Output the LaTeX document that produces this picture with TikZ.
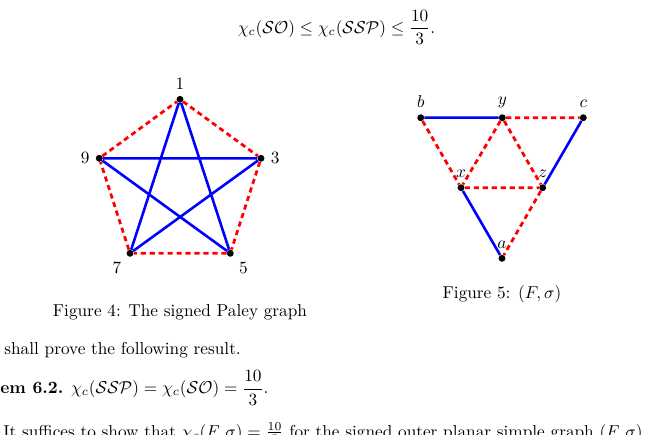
\documentclass[tikz,border=0pt]{standalone}
\usepackage{amsmath,amssymb}
\usepackage{tikz}
\usetikzlibrary{positioning}

\begin{document}
\begin{tikzpicture}[
    x=0.58pt, y=-0.58pt,
    vtx/.style={circle, fill=black, inner sep=0pt, minimum size=4pt},
    posedge/.style={blue, line width=1.5pt},
    negedge/.style={red, line width=1.6pt, dash pattern=on 3pt off 2.2pt},
    txt/.style={inner sep=0pt, anchor=base west},
    captxt/.style={inner sep=0pt, anchor=base}
]
\useasboundingbox (0,0) rectangle (648,435);
\clip (0,0) rectangle (648,435);

\node[captxt] (bound) at (336.5,33)
    {$\displaystyle \chi_c(\mathcal{SO}) \le \chi_c(\mathcal{SSP}) \le \frac{10}{3}.$};

% signed Paley graph
\node[vtx, label=above:$1$] (p1) at (180,99.3) {};
\node[vtx, label=left:$9$] (p9) at (99.3,158.3) {};
\node[vtx, label=right:$3$] (p3) at (261,158.3) {};
\node[vtx, label=below left:$7$] (p7) at (130,253.3) {};
\node[vtx, label=below right:$5$] (p5) at (230.3,253.3) {};

\draw[negedge] (p1) -- (p3) -- (p5) -- (p7) -- (p9) -- (p1);
\draw[posedge] (p1) -- (p7) (p1) -- (p5) (p9) -- (p3) (p9) -- (p5) (p3) -- (p7);

\node[captxt] (cap4) at (180,316.5) {Figure 4: The signed Paley graph};

% (F, sigma)
\node[vtx, label=above:$b$] (b) at (420.7,117.7) {};
\node[vtx, label=above:$y$] (y) at (502.3,117.7) {};
\node[vtx, label=above:$c$] (c) at (583.3,117.7) {};
\node[vtx, label=above:$x$] (x) at (461,187.7) {};
\node[vtx, label=above:$z$] (z) at (542.7,187.7) {};
\node[vtx, label=above:$a$] (a) at (502,258.3) {};

\draw[posedge] (b) -- (y) (c) -- (z) (x) -- (a);
\draw[negedge] (y) -- (c) (b) -- (x) (y) -- (x) (y) -- (z) (x) -- (z) (z) -- (a);

\node[captxt] (cap5) at (502,298) {Figure 5: $(F,\sigma)$};

\node[txt] (line1) at (4,354) {shall prove the following result.};
\node[txt] (thm) at (0,393.4)
    {\textbf{em 6.2.} $\displaystyle \chi_c(\mathcal{SSP}) = \chi_c(\mathcal{SO}) = \frac{10}{3}.$};
\node[txt] (line2) at (3,437)
    {It suffices to show that $\chi_c(F,\sigma) = \frac{10}{3}$ for the signed outer planar simple graph $(F,\sigma)$};

\end{tikzpicture}
\end{document}
